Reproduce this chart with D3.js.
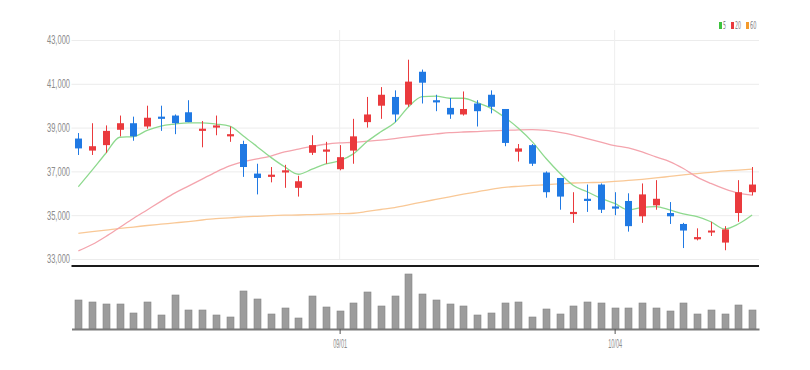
<!DOCTYPE html>
<html>
<head>
<meta charset="utf-8">
<script src="https://cdn.jsdelivr.net/npm/d3@7"></script>
<style>
  body { margin: 0; background: #fff; }
  svg { display: block; font-family: "Liberation Sans Narrow", "DejaVu Sans Condensed", sans-serif; }
</style>
</head>
<body>
<svg width="810" height="370"></svg>
<script>
// Trading days shown on the chart
let dates = ['08/04','08/05','08/08','08/09','08/10','08/11','08/12','08/16','08/17','08/18',
  '08/19','08/22','08/23','08/24','08/25','08/26','08/29','08/30','08/31','09/01',
  '09/02','09/05','09/06','09/07','09/08','09/13','09/14','09/15','09/16','09/19',
  '09/20','09/21','09/22','09/23','09/26','09/27','09/28','09/29','09/30','10/04',
  '10/05','10/06','10/07','10/11','10/12','10/13','10/14','10/17','10/18','10/19'];

// OHLC
let opens = [38500,37950,38200,38900,39200,39050,39500,39550,39700,38850,
  39000,38600,38250,36900,36750,36950,36250,37850,37900,37100,
  37950,39250,40000,40400,40050,41550,40250,39900,39600,40100,
  40500,39850,37900,38200,36950,36700,35050,35750,36400,35400,
  35650,34950,35450,35100,34600,33900,34250,33750,35100,36050];
let highs = [38750,39200,39100,39550,39500,40000,40000,39600,40250,39300,
  39550,39050,38400,37350,37200,37300,36800,38650,38350,38200,
  39400,40400,40850,40700,42100,41650,40500,40350,40650,40250,
  40700,39850,38250,38250,37000,36700,36050,36400,36450,36050,
  36000,36450,36600,35600,34650,34400,34700,34500,36600,37200];
let lows = [37750,37750,37850,38600,38400,38950,38850,38700,39250,38100,
  38650,38350,36750,35950,36500,36250,35850,37750,37350,37050,
  37350,39000,39400,39250,39950,40100,39750,39400,39550,39050,
  39650,38150,37450,37250,35800,35250,34650,35150,35100,35000,
  34250,34650,35250,34600,33500,33850,34050,33400,34700,35900];
let closes = [38050,38150,38850,39200,38600,39450,39400,39200,39250,38950,
  39100,38700,37200,36700,36850,37050,36550,38200,38000,37650,
  38600,39600,40500,39600,41100,41050,40150,39600,39850,39750,
  39950,38300,38050,37350,36050,35850,35150,35650,35250,35300,
  34500,35950,35750,34950,34300,34000,34300,34350,36050,36400];

// Volume (shares)
let volumes = [290000,270000,250000,250000,160000,270000,140000,340000,190000,190000,
  140000,120000,380000,300000,150000,210000,110000,330000,220000,180000,
  260000,370000,230000,330000,550000,350000,290000,250000,230000,140000,
  160000,260000,270000,120000,200000,150000,230000,270000,260000,210000,
  210000,260000,210000,180000,260000,150000,190000,150000,240000,190000];

// Moving averages as drawn
let ma5 = [36300,37060,37830,38560,38590,38870,39070,39160,39220,39220,
  39160,39070,38620,38130,37640,37210,36870,37100,37340,37490,
  37800,38360,38810,39220,39940,40410,40440,40340,40340,40140,
  39880,39470,38970,38360,37600,36930,36360,36070,35770,35540,
  35240,35360,35390,35240,35060,34930,34700,34370,34600,35010];
let ma20 = [33370,33660,34030,34440,34850,35240,35630,36010,36330,36650,
  36970,37250,37450,37570,37700,37890,38020,38140,38240,38300,
  38330,38380,38430,38500,38580,38650,38710,38770,38800,38820,
  38850,38870,38900,38910,38870,38780,38660,38500,38340,38180,
  38070,37890,37660,37450,37130,36740,36450,36200,36010,35920];
let ma60 = [34170,34250,34320,34400,34460,34530,34590,34650,34710,34780,
  34840,34880,34920,34950,34980,35000,35010,35030,35050,35070,
  35090,35170,35260,35350,35470,35600,35720,35840,35960,36070,
  36180,36270,36320,36360,36390,36430,36470,36490,36500,36540,
  36590,36640,36700,36770,36840,36900,36960,37020,37060,37100];

let priceTicks = [33000,35000,37000,39000,41000,43000];
let dateTicks = ['09/01','10/04'];
let legendLabels = ['5','20','60'];

let svg = d3.select('svg');
let left = 71.5, right = 759;

let x = d3.scalePoint().domain(dates).range([left, right]).padding(0.5);
let y = d3.scaleLinear().domain([33000, 43000]).range([259, 40]);
let yv = d3.scaleLinear().domain([0, 600000]).range([329, 269]);

// horizontal grid + price labels
let yAxis = svg.append('g')
  .attr('transform', 'translate(' + left + ',0)')
  .call(d3.axisLeft(y).tickValues(priceTicks).tickSize(-(right - left)).tickPadding(1.5).tickFormat(d3.format(',')));
yAxis.select('.domain').remove();
yAxis.selectAll('line').attr('stroke', '#ececec');
yAxis.selectAll('text')
  .attr('fill', '#8c8c8c')
  .attr('textLength', 23)
  .attr('lengthAdjust', 'spacingAndGlyphs')
  .style('font-size', '12px');

// vertical grid at date ticks
svg.append('g').selectAll('line')
  .data(dateTicks)
  .enter().append('line')
    .attr('x1', d => x(d)).attr('x2', d => x(d))
    .attr('y1', 30).attr('y2', 259)
    .attr('stroke', '#eeeeee');

// moving averages
let maLines = [
  { vals: ma60, color: '#f9c896' },
  { vals: ma20, color: '#f4a4ad' },
  { vals: ma5, color: '#8ed98e' }
];
let line = d3.line().x((d, i) => x(dates[i])).y(d => y(d)).curve(d3.curveMonotoneX);
svg.append('g').selectAll('path')
  .data(maLines)
  .enter().append('path')
    .attr('d', d => line(d.vals))
    .attr('fill', 'none')
    .attr('stroke', d => d.color)
    .attr('stroke-width', 1.3);

// candles
let up = '#ea3a3d', down = '#2079e3';
let candle = svg.append('g').selectAll('g')
  .data(dates)
  .enter().append('g');
candle.append('line')
  .attr('x1', d => Math.round(x(d)) + 0.5).attr('x2', d => Math.round(x(d)) + 0.5)
  .attr('y1', (d, i) => y(highs[i])).attr('y2', (d, i) => y(lows[i]))
  .attr('stroke', (d, i) => closes[i] >= opens[i] ? up : down)
  .attr('stroke-width', 1);
candle.append('rect')
  .attr('x', d => Math.round(x(d)) - 3)
  .attr('width', 7)
  .attr('y', (d, i) => y(Math.max(opens[i], closes[i])))
  .attr('height', (d, i) => Math.max(2, y(Math.min(opens[i], closes[i])) - y(Math.max(opens[i], closes[i]))))
  .attr('fill', (d, i) => closes[i] >= opens[i] ? up : down);

// pane separator
svg.append('line')
  .attr('x1', left).attr('x2', right)
  .attr('y1', 266).attr('y2', 266)
  .attr('stroke', '#1a1a1a').attr('stroke-width', 2);

// volume bars
svg.append('g').selectAll('rect')
  .data(volumes)
  .enter().append('rect')
    .attr('x', (d, i) => Math.round(x(dates[i])) - 3)
    .attr('width', 7)
    .attr('y', d => yv(d))
    .attr('height', d => yv(0) - yv(d))
    .attr('fill', '#9c9c9c')
    .attr('stroke', '#858585')
    .attr('stroke-width', 0.6);

// date axis
let xAxis = svg.append('g')
  .attr('transform', 'translate(0,329)')
  .call(d3.axisBottom(x).tickValues(dateTicks).tickSize(5).tickSizeOuter(0).tickPadding(5));
xAxis.select('.domain').attr('stroke', '#7a7a7a').attr('stroke-width', 2);
xAxis.selectAll('line').attr('stroke', '#555');
xAxis.selectAll('text')
  .attr('fill', '#8c8c8c')
  .attr('textLength', 14)
  .attr('lengthAdjust', 'spacingAndGlyphs')
  .style('font-size', '12px');

// legend
let legendColors = ['#3ec23e', '#ea3a3d', '#f39a2c'];
let legendX = [719, 731, 746];
let legendW = [3, 6, 6.5];
let legend = svg.append('g').selectAll('g')
  .data(legendLabels)
  .enter().append('g')
    .attr('transform', (d, i) => 'translate(' + legendX[i] + ',22)');
legend.append('rect')
  .attr('width', 3).attr('height', 7)
  .attr('fill', (d, i) => legendColors[i]);
legend.append('text')
  .attr('x', 4).attr('y', 7)
  .attr('fill', '#888')
  .attr('textLength', (d, i) => legendW[i])
  .attr('lengthAdjust', 'spacingAndGlyphs')
  .style('font-size', '10.5px')
  .text(d => d);
</script>
</body>
</html>
